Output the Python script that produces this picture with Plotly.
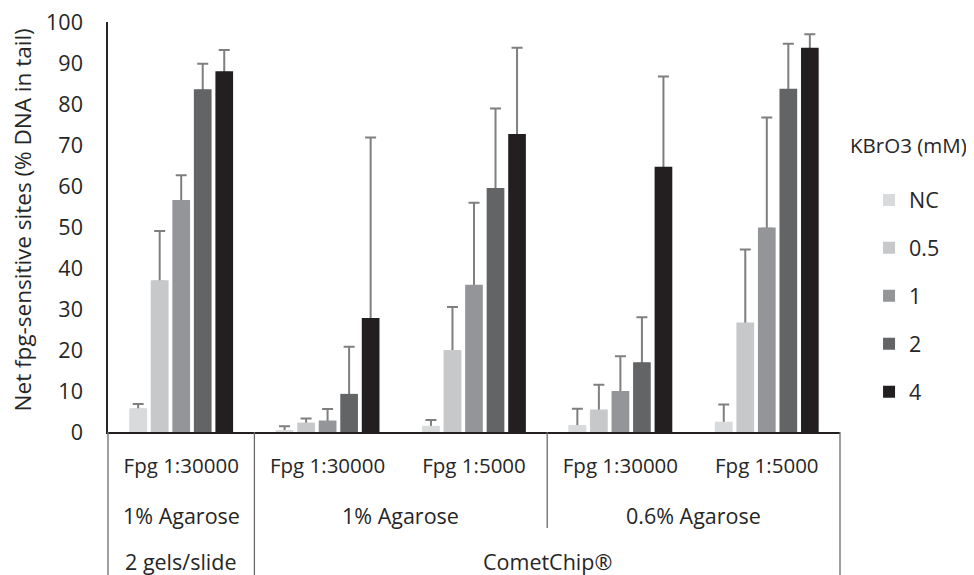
import plotly.graph_objects as go

# ---------------- data ----------------
group_keys = ["g1", "g2", "g3", "g4", "g5"]
fpg_labels = ["Fpg 1:30000", "Fpg 1:30000", "Fpg 1:5000", "Fpg 1:30000", "Fpg 1:5000"]
agarose_labels = ["1% Agarose", "1% Agarose", "0.6% Agarose"]
agarose_spans = [(0, 0), (1, 2), (3, 4)]
format_labels = ["2 gels/slide", "CometChip®"]
format_spans = [(0, 0), (1, 4)]

series_names = ["NC", "0.5", "1", "2", "4"]
nc_vals = [5.8, 0.4, 1.5, 1.7, 2.5]
c05_vals = [37.0, 2.3, 20.0, 5.5, 26.7]
c1_vals = [56.6, 2.8, 35.9, 10.0, 49.9]
c2_vals = [83.6, 9.3, 59.5, 17.0, 83.7]
c4_vals = [88.0, 27.8, 72.7, 64.7, 93.7]

nc_err = [1.0, 1.0, 1.4, 4.0, 4.2]
c05_err = [12.0, 1.0, 10.5, 6.0, 17.8]
c1_err = [6.0, 2.8, 20.0, 8.5, 26.8]
c2_err = [6.2, 11.5, 19.4, 11.0, 11.0]
c4_err = [5.2, 44.0, 21.0, 22.0, 3.3]

y_ticks = [0, 10, 20, 30, 40, 50, 60, 70, 80, 90, 100]

# ---------------- style ----------------
colors = ["#d9dadb", "#c7c8c9", "#939598", "#636466", "#231f20"]
err_color = "#7f7f7f"
text_color = "#262626"
font_family = "Open Sans"
fsize = 21.5

all_vals = [nc_vals, c05_vals, c1_vals, c2_vals, c4_vals]
all_errs = [nc_err, c05_err, c1_err, c2_err, c4_err]

fig = go.Figure()
# hidden traces carrying the (plus-only) error bars, drawn beneath the visible bars
shoe_drop = 0.35
for name, vals, errs in zip(series_names, all_vals, all_errs):
    fig.add_trace(go.Bar(
        x=group_keys, y=[v - shoe_drop for v in vals], offsetgroup=name,
        marker=dict(color="rgba(0,0,0,0)"), showlegend=False, hoverinfo="skip",
        error_y=dict(type="data", symmetric=False,
                     array=[e + shoe_drop for e in errs], arrayminus=[0] * len(errs),
                     color=err_color, thickness=2, width=5.5),
    ))
for i, (name, vals) in enumerate(zip(series_names, all_vals)):
    fig.add_trace(go.Bar(
        x=group_keys, y=vals, name=name, offsetgroup=name, legendgroup=name,
        marker=dict(color=colors[i], line=dict(width=0)),
    ))

shapes = []
n = len(group_keys)
line_style = dict(color="#6b6b6b", width=1.3)
bottom = -0.36
for b in [0, 1, 5]:
    shapes.append(dict(type="line", xref="paper", yref="paper", x0=b / n, x1=b / n,
                       y0=0, y1=bottom, line=line_style, layer="above"))
shapes.append(dict(type="line", xref="paper", yref="paper", x0=3 / n, x1=3 / n,
                   y0=0, y1=-0.234, line=line_style, layer="above"))

annotations = []
for lab, (a, b) in zip(agarose_labels, agarose_spans):
    annotations.append(dict(text=lab, x=(a + b) / 2, xref="x", y=-0.2025, yref="paper",
                            showarrow=False, xanchor="center", yanchor="middle",
                            font=dict(size=fsize, color=text_color, family=font_family)))
for lab, (a, b) in zip(format_labels, format_spans):
    annotations.append(dict(text=lab, x=(a + b) / 2, xref="x", y=-0.317, yref="paper",
                            showarrow=False, xanchor="center", yanchor="middle",
                            font=dict(size=fsize, color=text_color, family=font_family)))
annotations.append(dict(text="Net fpg-sensitive sites (% DNA in tail)", textangle=-90,
                        x=-0.117, xref="paper", y=0.517, yref="paper", showarrow=False,
                        xanchor="center", yanchor="middle",
                        font=dict(size=22.5, color=text_color, family=font_family)))

fig.update_layout(
    width=966, height=567,
    margin=dict(l=100, r=134, t=14, b=143, autoexpand=False),
    paper_bgcolor="white", plot_bgcolor="white",
    barmode="group", bargap=0.265, bargroupgap=0.18,
    font=dict(family=font_family, size=fsize, color=text_color),
    showlegend=True,
    legend=dict(
        title=dict(text="KBrO3 (mM)<br> ", font=dict(size=20.5, color=text_color)),
        x=1.011, xanchor="left", y=0.746, yanchor="top",
        traceorder="grouped", tracegroupgap=17, indentation=21,
        font=dict(size=fsize, color=text_color), bgcolor="rgba(0,0,0,0)",
    ),
    xaxis=dict(type="category", categoryorder="array", categoryarray=group_keys,
               tickmode="array", tickvals=group_keys, ticktext=fpg_labels,
               ticks="", showline=True, linecolor="#231f20", linewidth=2,
               showgrid=False, zeroline=False, ticklabelstandoff=14,
               tickfont=dict(size=20.5, color=text_color)),
    yaxis=dict(range=[0, 100], tickvals=y_ticks, ticks="", showline=True,
               linecolor="#262626", linewidth=1.5, showgrid=False, zeroline=False,
               ticklabelstandoff=19, ticklabeloverflow="allow",
               tickfont=dict(size=fsize, color=text_color)),
    shapes=shapes, annotations=annotations,
)

fig.write_html("out.html")
